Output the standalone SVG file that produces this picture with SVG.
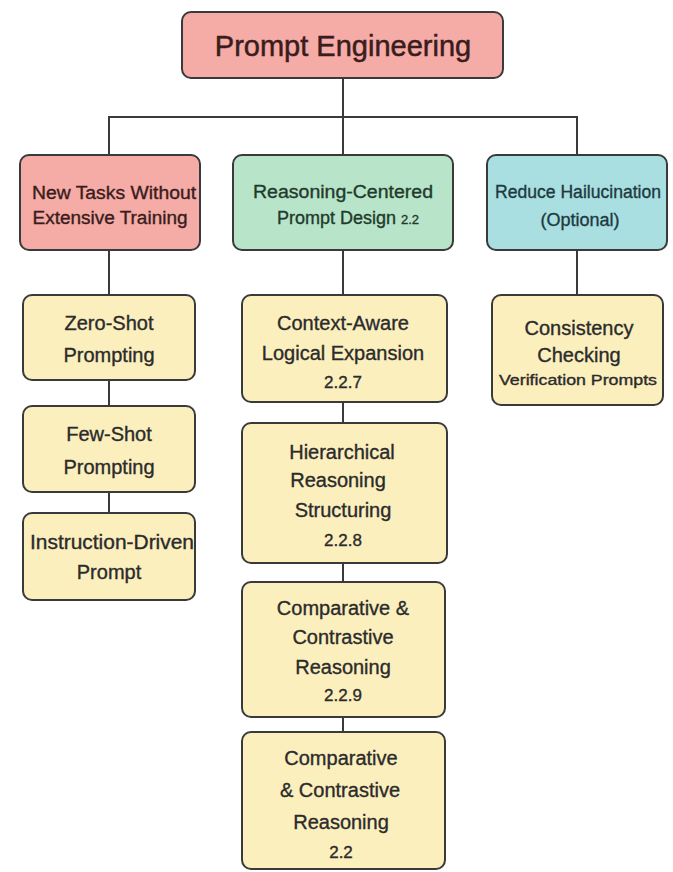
<svg xmlns="http://www.w3.org/2000/svg" width="673" height="872" viewBox="0 0 673 872">
<style>
.box{stroke:#3a3a3a;stroke-width:2}
.red{fill:#f5aba6}
.green{fill:#b8e4c9}
.cyan{fill:#a9dfe0}
.yel{fill:#fcefbe}
text{font-family:"Liberation Sans",Arial,sans-serif;text-anchor:middle;fill:#2b2b2b;stroke:#2b2b2b;stroke-width:0.35}
.t2{font-size:18px}
.t3{font-size:20px}
.num{font-size:17px}
.conn line{stroke:#3a3a3a;stroke-width:2;fill:none}
</style>
<rect width="673" height="872" fill="#ffffff"/>
<g class="conn" id="connectors">
<line x1="343" y1="78" x2="343" y2="117"/>
<line x1="109" y1="117" x2="577" y2="117"/>
<line x1="109" y1="116" x2="109" y2="155"/>
<line x1="343" y1="117" x2="343" y2="155"/>
<line x1="577" y1="116" x2="577" y2="155"/>
<line x1="109" y1="250" x2="109" y2="295"/>
<line x1="109" y1="380" x2="109" y2="406"/>
<line x1="109" y1="492" x2="109" y2="513"/>
<line x1="343" y1="250" x2="343" y2="295"/>
<line x1="343" y1="402" x2="343" y2="423"/>
<line x1="343" y1="563" x2="343" y2="582"/>
<line x1="343" y1="717" x2="343" y2="732"/>
<line x1="577" y1="250" x2="577" y2="295"/>
</g>
<g id="root">
<rect class="box red" x="182" y="12" width="321" height="66" rx="9"/>
<text x="343" y="56" style="font-size:29px;fill:#3a1c1c;stroke:#3a1c1c;stroke-width:0.5">Prompt Engineering</text>
</g>
<g id="new-tasks">
<rect class="box red" x="20" y="155" width="180" height="95" rx="9"/>
<text class="t2" x="114" y="199" textLength="164" lengthAdjust="spacingAndGlyphs" style="fill:#3a1c1c;stroke:#3a1c1c">New Tasks Without</text>
<text class="t2" x="110" y="224" textLength="155" lengthAdjust="spacingAndGlyphs" style="fill:#3a1c1c;stroke:#3a1c1c">Extensive Training</text>
</g>
<g id="reasoning-centered">
<rect class="box green" x="233" y="155" width="220" height="95" rx="9"/>
<text class="t2" x="343" y="198" textLength="180" lengthAdjust="spacingAndGlyphs" style="fill:#1f3b2c;stroke:#1f3b2c">Reasoning-Centered</text>
<text class="t2" x="348" y="224" style="fill:#1f3b2c;stroke:#1f3b2c"><tspan>Prompt Design </tspan><tspan style="font-size:13px">2.2</tspan></text>
</g>
<g id="reduce-hallucination">
<rect class="box cyan" x="487" y="155" width="180" height="95" rx="9"/>
<text class="t2" x="578" y="198" textLength="166" lengthAdjust="spacingAndGlyphs" style="fill:#1d3a40;stroke:#1d3a40">Reduce Hailucination</text>
<text class="t2" x="580" y="226" style="fill:#1d3a40;stroke:#1d3a40">(Optional)</text>
</g>
<g id="zero-shot">
<rect class="box yel" x="23" y="295" width="172" height="85" rx="9"/>
<text class="t3" x="109" y="330">Zero-Shot</text>
<text class="t3" x="109" y="362">Prompting</text>
</g>
<g id="few-shot">
<rect class="box yel" x="23" y="406" width="172" height="86" rx="9"/>
<text class="t3" x="109" y="441">Few-Shot</text>
<text class="t3" x="109" y="474">Prompting</text>
</g>
<g id="instruction-driven">
<rect class="box yel" x="23" y="513" width="172" height="87" rx="9"/>
<text class="t3" x="112" y="549" textLength="164" lengthAdjust="spacingAndGlyphs">Instruction-Driven</text>
<text class="t3" x="109" y="579">Prompt</text>
</g>
<g id="context-aware">
<rect class="box yel" x="242" y="295" width="205" height="107" rx="9"/>
<text class="t3" x="343" y="330">Context-Aware</text>
<text class="t3" x="343" y="360">Logical Expansion</text>
<text class="num" x="343" y="388">2.2.7</text>
</g>
<g id="hierarchical">
<rect class="box yel" x="242" y="423" width="205" height="140" rx="9"/>
<text class="t3" x="342" y="459">Hierarchical</text>
<text class="t3" x="338" y="487">Reasoning</text>
<text class="t3" x="343" y="517">Structuring</text>
<text class="num" x="343" y="546">2.2.8</text>
</g>
<g id="comparative-1">
<rect class="box yel" x="242" y="582" width="203" height="135" rx="9"/>
<text class="t3" x="343" y="615">Comparative &amp;</text>
<text class="t3" x="343" y="644">Contrastive</text>
<text class="t3" x="343" y="674">Reasoning</text>
<text class="num" x="343" y="701">2.2.9</text>
</g>
<g id="comparative-2">
<rect class="box yel" x="242" y="732" width="203" height="137" rx="9"/>
<text class="t3" x="341" y="765">Comparative</text>
<text class="t3" x="340" y="797">&amp; Contrastive</text>
<text class="t3" x="341" y="829">Reasoning</text>
<text class="num" x="341" y="858">2.2</text>
</g>
<g id="consistency">
<rect class="box yel" x="492" y="295" width="171" height="110" rx="9"/>
<text class="t3" x="579" y="335">Consistency</text>
<text class="t3" x="579" y="362">Checking</text>
<text x="578" y="385" textLength="158" lengthAdjust="spacingAndGlyphs" style="font-size:14px">Verification Prompts</text>
</g>
</svg>
